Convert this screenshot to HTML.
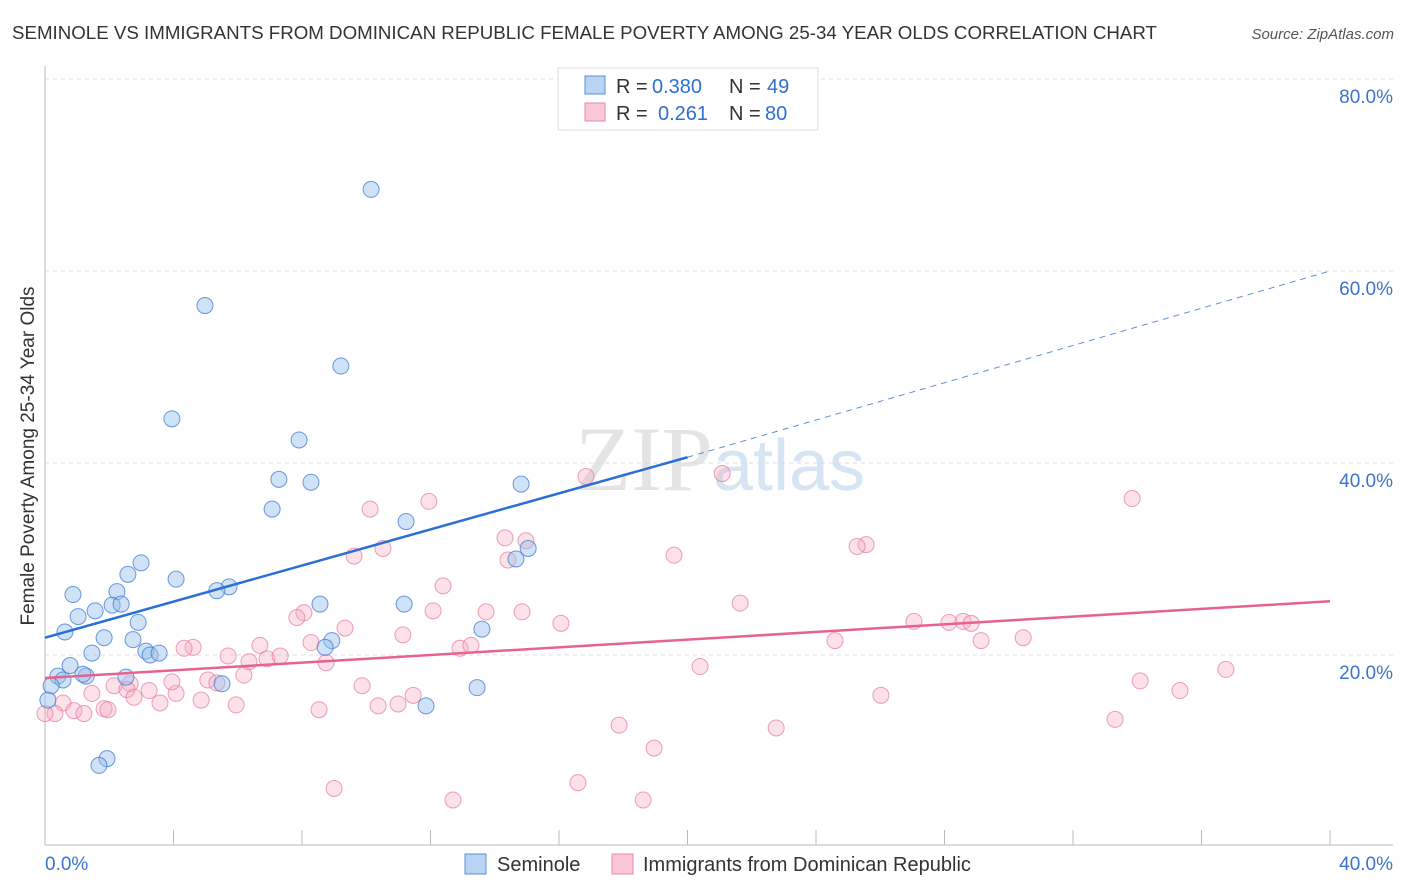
<!DOCTYPE html>
<html><head><meta charset="utf-8"><style>
body{margin:0;background:#fff;font-family:"Liberation Sans",sans-serif}
</style></head><body>
<svg id="c" width="1406" height="892" style="display:block">
<text x="12" y="39" font-size="18" textLength="1145" lengthAdjust="spacingAndGlyphs" fill="#333">SEMINOLE VS IMMIGRANTS FROM DOMINICAN REPUBLIC FEMALE POVERTY AMONG 25-34 YEAR OLDS CORRELATION CHART</text>
<text x="1394" y="39" font-size="15" fill="#555" font-style="italic" text-anchor="end">Source: ZipAtlas.com</text>
<text x="720" y="490" font-size="92" fill="#e4e4e4" text-anchor="middle" font-family="Liberation Serif,serif">ZIP<tspan fill="#d6e4f4" font-family="Liberation Sans,sans-serif" font-size="72">atlas</tspan></text>
<text transform="translate(34,456) rotate(-90)" font-size="19" fill="#333" text-anchor="middle">Female Poverty Among 25-34 Year Olds</text>
<g id="grid"></g><g id="pts"></g><g id="lines"></g>
<g font-size="20" fill="#333">
<rect x="558" y="68" width="260" height="62" fill="#fff" stroke="#ddd"/>
<rect x="585" y="76" width="20" height="18" fill="#b9d3f3" stroke="#5b8fd6"/>
<rect x="585" y="103" width="20" height="18" fill="#fbc6d6" stroke="#e58fab"/>
<text x="616" y="93">R =</text><text x="652" y="93" fill="#2f6fd1">0.380</text><text x="729" y="93">N =</text><text x="767" y="93" fill="#2f6fd1">49</text>
<text x="616" y="120">R =</text><text x="658" y="120" fill="#2f6fd1">0.261</text><text x="729" y="120">N =</text><text x="765" y="120" fill="#2f6fd1">80</text>
</g>
<g>
<rect x="465" y="854" width="21" height="20" fill="#b9d3f3" stroke="#5b8fd6"/>
<text x="497" y="871" font-size="20" fill="#333">Seminole</text>
<rect x="612" y="854" width="21" height="20" fill="#fbc6d6" stroke="#e58fab"/>
<text x="643" y="871" font-size="20" fill="#333">Immigrants from Dominican Republic</text>
</g>
<text x="45" y="870" font-size="19" fill="#3b73cf">0.0%</text>
<text x="1393" y="870" font-size="19" fill="#3b73cf" text-anchor="end">40.0%</text>
</svg>
<script>
const yTicks=[20,40,60,80];
const yTickLabels=["20.0%","40.0%","60.0%","80.0%"];
const blueX=[10.15,4.98,9.21,3.95,7.91,7.28,8.28,14.82,7.07,11.24,15.04,14.66,2.99,2.58,4.08,0.87,2.24,5.73,5.35,2.09,2.37,1.56,1.03,2.90,0.62,8.56,11.18,1.84,2.74,13.60,1.46,3.14,3.27,3.55,8.93,8.72,0.78,0.40,1.28,0.56,1.18,2.52,0.19,5.51,0.09,13.45,11.86,1.93,1.68];
const blueY=[68.5,56.4,50.1,44.6,42.4,38.3,38.0,37.8,35.2,33.9,31.1,30.0,29.6,28.4,27.9,26.3,26.6,27.1,26.7,25.2,25.3,24.6,24.0,23.4,22.4,25.3,25.3,21.8,21.6,22.7,20.2,20.4,20.0,20.2,21.5,20.8,18.9,17.8,17.8,17.4,18.0,17.7,16.8,17.0,15.3,16.6,14.7,9.2,8.5];
const pinkX=[10.12,11.95,16.84,21.08,33.84,10.52,9.62,14.32,14.97,14.41,25.56,25.28,19.58,12.39,8.06,7.84,9.34,12.08,13.73,14.85,16.06,21.64,27.05,28.14,28.58,28.83,29.14,30.45,24.59,11.14,8.28,6.69,4.61,4.33,5.70,6.35,6.91,7.32,8.75,12.92,13.26,20.39,36.76,34.09,35.33,26.02,1.46,2.15,2.65,2.55,2.77,3.24,3.58,4.08,4.86,5.07,5.35,6.19,3.95,9.87,11.46,10.99,10.37,5.95,8.53,0.56,0.90,1.84,1.96,1.21,0.31,0.0,17.87,22.76,33.31,18.96,16.59,9.00,12.70,18.62];
const pinkY=[35.2,36.0,38.6,38.9,36.3,31.1,30.3,32.2,31.9,29.9,31.5,31.3,30.4,27.2,24.4,23.9,22.8,24.6,24.5,24.5,23.3,25.4,23.5,23.4,23.5,23.3,21.5,21.8,21.5,22.1,21.3,21.0,20.8,20.7,19.9,19.3,19.6,19.9,19.2,20.7,21.0,18.8,18.5,17.3,16.3,15.8,16.0,16.8,17.0,16.4,15.6,16.3,15.0,16.0,15.3,17.4,17.1,17.9,17.2,16.8,15.8,14.9,14.7,14.8,14.3,15.0,14.2,14.4,14.3,13.9,13.9,13.9,12.7,12.4,13.3,10.3,6.7,6.1,4.9,4.9];
const blueTrend=[21.8,40.6,60.0];
const pinkTrend=[17.6,25.6];
const NS="http://www.w3.org/2000/svg";
const X=v=>45+v*32.125, Y=v=>847-v*9.6;
function mk(t,a,p){const e=document.createElementNS(NS,t);for(const k in a)e.setAttribute(k,a[k]);p.appendChild(e);return e;}
const g=document.getElementById('grid');
let ax=mk('line',{x1:45,y1:66,x2:45,y2:845,stroke:'#bbb'},g);


let bx=mk('line',{x1:45,y1:845,x2:1393,y2:845,stroke:'#bbb'},g);


for(let i=1;i<=10;i++){const xx=X(i*4);const t=mk('line',{x1:xx,y1:830,x2:xx,y2:845,stroke:'#bbb'},g);

}
yTicks.forEach((v,i)=>{const l=mk('line',{x1:45,y1:Y(v),x2:1393,y2:Y(v),stroke:'#ddd','stroke-dasharray':'4,4'},g);


const t=mk('text',{x:1393,y:Y(v)+24,'font-size':19,fill:'#3b73cf','text-anchor':'end'},g);t.textContent=yTickLabels[i];

});
const p=document.getElementById('pts');
pinkX.forEach((x,i)=>{const c=mk('circle',{cx:X(x),cy:Y(pinkY[i]),r:8,fill:'rgba(246,168,192,0.35)',stroke:'rgba(230,120,155,0.7)','stroke-width':1},p);

});
blueX.forEach((x,i)=>{const c=mk('circle',{cx:X(x),cy:Y(blueY[i]),r:8,fill:'rgba(150,190,235,0.45)',stroke:'rgba(60,120,210,0.75)','stroke-width':1},p);

});
const L=document.getElementById('lines');
let b1=mk('line',{x1:X(0),y1:Y(blueTrend[0]),x2:X(20),y2:Y(blueTrend[1]),stroke:'#2a6fd6','stroke-width':2.5},L);


let b2=mk('line',{x1:X(20),y1:Y(blueTrend[1]),x2:X(40),y2:Y(blueTrend[2]),stroke:'#5b8fd6','stroke-width':1,'stroke-dasharray':'6,5'},L);


let p1=mk('line',{x1:X(0),y1:Y(pinkTrend[0]),x2:X(40),y2:Y(pinkTrend[1]),stroke:'#e7628f','stroke-width':2.5},L);


</script>
</body></html>
